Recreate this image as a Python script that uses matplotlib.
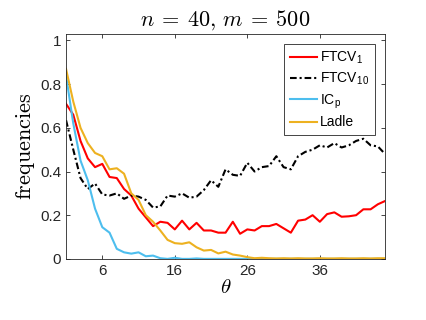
import numpy as np
import matplotlib
matplotlib.use("Agg")
import matplotlib.pyplot as plt
from matplotlib.ticker import FixedLocator, FuncFormatter

plt.rcParams.update({
    "font.family": ["Liberation Sans", "DejaVu Sans"],
    "mathtext.fontset": "cm",
    "font.size": 10,
    "lines.linewidth": 1.5,
})

theta = np.arange(1, 46)

ftcv1 = [0.71, 0.66, 0.54, 0.46, 0.42, 0.435, 0.375, 0.37, 0.32, 0.29,
         0.23, 0.19, 0.15, 0.17, 0.165, 0.135, 0.175, 0.135, 0.165, 0.13,
         0.13, 0.12, 0.12, 0.17, 0.115, 0.135, 0.13, 0.15, 0.15, 0.16,
         0.14, 0.12, 0.175, 0.18, 0.20, 0.17, 0.205, 0.213, 0.193, 0.195,
         0.20, 0.227, 0.227, 0.25, 0.265]
ftcv10 = [0.635, 0.50, 0.37, 0.32, 0.345, 0.295, 0.29, 0.30, 0.275, 0.29,
          0.285, 0.27, 0.235, 0.24, 0.29, 0.285, 0.30, 0.28, 0.285, 0.315,
          0.36, 0.33, 0.41, 0.385, 0.38, 0.44, 0.40, 0.42, 0.425, 0.47,
          0.42, 0.41, 0.47, 0.49, 0.50, 0.52, 0.51, 0.53, 0.51, 0.52,
          0.54, 0.55, 0.52, 0.515, 0.48]
icp = [0.84, 0.62, 0.45, 0.36, 0.23, 0.145, 0.12, 0.046, 0.03, 0.024,
       0.03, 0.012, 0.015, 0.003, 0.0, 0.005, 0.0, 0.0, 0.002, 0.0,
       0.0, 0.0, 0.0, 0.0, 0.0, 0.0, 0.0, 0.0, 0.0, 0.0,
       0.0, 0.0, 0.0, 0.0, 0.0, 0.0, 0.0, 0.0, 0.0, 0.0,
       0.0, 0.0, 0.0, 0.0, 0.0]
ladle = [0.87, 0.72, 0.60, 0.53, 0.485, 0.47, 0.41, 0.415, 0.39, 0.30,
         0.27, 0.20, 0.17, 0.13, 0.087, 0.072, 0.069, 0.076, 0.053, 0.038,
         0.041, 0.025, 0.033, 0.02, 0.015, 0.008, 0.003, 0.005, 0.003, 0.002,
         0.003, 0.002, 0.003, 0.002, 0.002, 0.003, 0.002, 0.002, 0.003, 0.002,
         0.002, 0.003, 0.002, 0.003, 0.003]

labels = [r"FTCV$_\mathregular{1}$", r"FTCV$_\mathregular{10}$",
          r"IC$_\mathregular{p}$", "Ladle"]
xticks = [6, 16, 26, 36]
yticks = [0, 0.2, 0.4, 0.6, 0.8, 1]

fig = plt.figure(figsize=(4.26, 3.2), dpi=100)
ax = fig.add_axes([0.155, 0.191, 0.749, 0.703])

ax.plot(theta, ftcv1, '-', color='red', label=labels[0])
ax.plot(theta, ftcv10, color='black', linestyle=(0, (3.2, 1.4, 1, 1.4)),
        label=labels[1])
ax.plot(theta, icp, '-', color='#4DBEEE', label=labels[2])
ax.plot(theta, ladle, '-', color='#EDB120', label=labels[3])

ax.set_xlim(1, 45)
ax.set_ylim(0, 1.03)
ax.xaxis.set_major_locator(FixedLocator(xticks))
ax.yaxis.set_major_locator(FixedLocator(yticks))
ax.yaxis.set_major_formatter(FuncFormatter(lambda v, p: f"{v:g}"))
ax.tick_params(direction='in', top=True, right=True, length=3,
               colors='#262626', labelsize=11, width=0.6)
for s in ax.spines.values():
    s.set_color('#262626')
    s.set_linewidth(0.6)

ax.set_xlabel(r"$\theta$", fontsize=15, labelpad=0)
ax.set_ylabel(r"$\mathrm{frequencies}$", fontsize=16, labelpad=2)
ax.set_title(r"$n\:=\:40,\,m\:=\:500$", fontsize=16, pad=6)

leg = ax.legend(loc='upper right', fontsize=10, handlelength=2.0,
                handletextpad=0.2, labelspacing=0.35, borderpad=0.4,
                fancybox=False, framealpha=1, edgecolor='#262626',
                bbox_to_anchor=(0.99, 0.985))
leg.get_frame().set_linewidth(0.6)

fig.savefig("out.png", dpi=100)
